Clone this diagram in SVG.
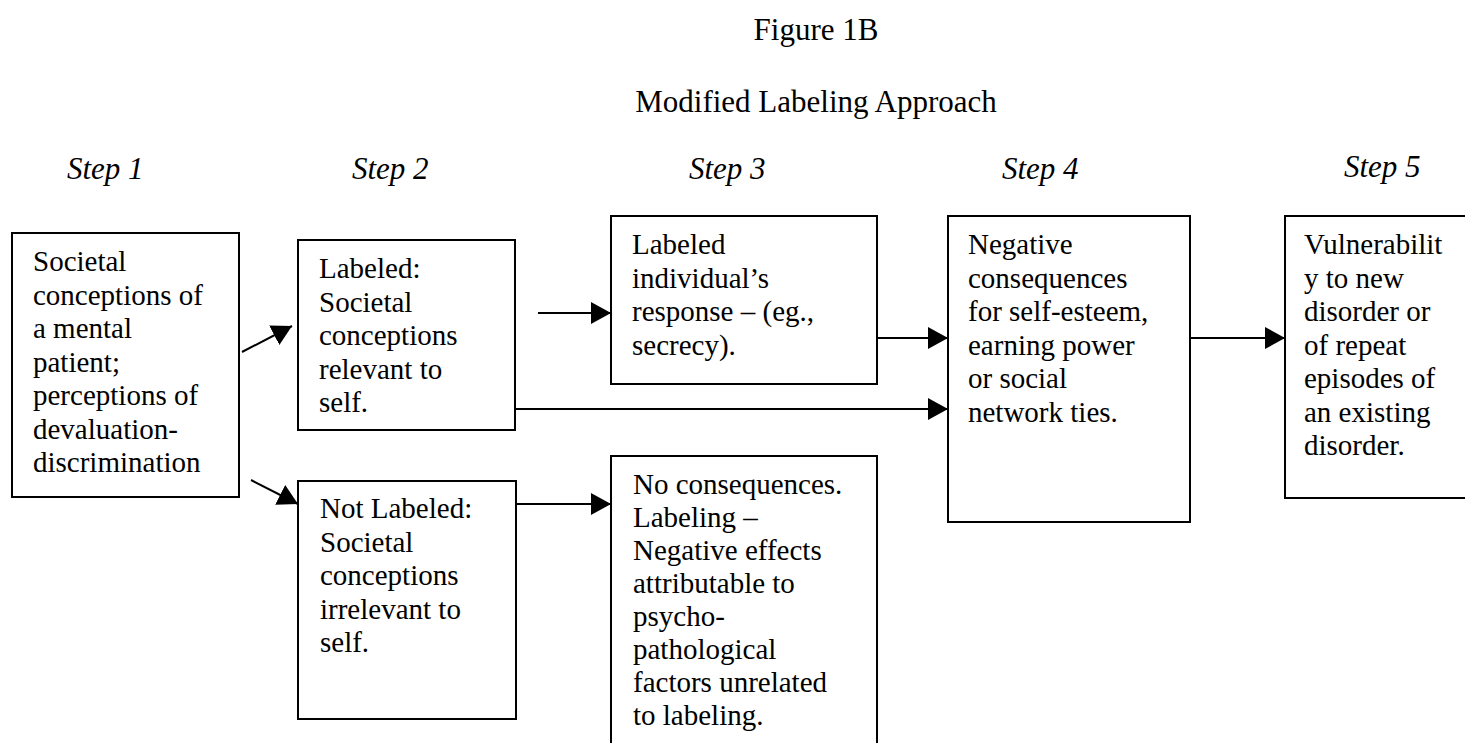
<svg xmlns="http://www.w3.org/2000/svg" width="1465" height="743" viewBox="0 0 1465 743">
<style>
text{font-family:"Liberation Serif","Times New Roman",serif;fill:#000}
.t{font-size:29px}
.title{font-size:31px;text-anchor:middle}
.step{font-size:31px;font-style:italic}
.box{fill:#fff;stroke:#000;stroke-width:2}
.c{stroke:#000;stroke-width:2;fill:none;marker-end:url(#ah)}
</style>
<defs>
<marker id="ah" markerUnits="userSpaceOnUse" markerWidth="20" markerHeight="22" refX="20" refY="11" orient="auto">
<path d="M0,0 L20,11 L0,22 z" fill="#000"/>
</marker>
</defs>
<rect width="1465" height="743" fill="#fff"/>
<g id="titles">
<text class="title" x="816" y="40">Figure 1B</text>
<text class="title" x="816" y="112">Modified Labeling Approach</text>
<text class="step" x="67" y="179">Step 1</text>
<text class="step" x="352" y="179">Step 2</text>
<text class="step" x="689" y="179">Step 3</text>
<text class="step" x="1002" y="179">Step 4</text>
<text class="step" x="1344" y="177">Step 5</text>
</g>
<g id="connectors">
<line class="c" x1="242" y1="352" x2="292" y2="326"/>
<line class="c" x1="251" y1="480" x2="298" y2="504"/>
<line class="c" x1="538" y1="313" x2="611" y2="313"/>
<line class="c" x1="515" y1="409" x2="948" y2="409"/>
<line class="c" x1="877" y1="338" x2="948" y2="338"/>
<line class="c" x1="516" y1="504" x2="611" y2="504"/>
<line class="c" x1="1190" y1="338" x2="1285" y2="338"/>
</g>
<g id="n1">
<rect class="box" x="12" y="233" width="227" height="264"/>
<text class="t"><tspan x="33" y="271">Societal</tspan><tspan x="33" y="304.5">conceptions of</tspan><tspan x="33" y="338">a mental</tspan><tspan x="33" y="371.5">patient;</tspan><tspan x="33" y="405">perceptions of</tspan><tspan x="33" y="438.5">devaluation-</tspan><tspan x="33" y="472">discrimination</tspan></text>
</g>
<g id="n2">
<rect class="box" x="298" y="240" width="217" height="190"/>
<text class="t"><tspan x="319" y="278">Labeled:</tspan><tspan x="319" y="311.5">Societal</tspan><tspan x="319" y="345">conceptions</tspan><tspan x="319" y="378.5">relevant to</tspan><tspan x="319" y="412">self.</tspan></text>
</g>
<g id="n3">
<rect class="box" x="298" y="481" width="218" height="238"/>
<text class="t"><tspan x="320" y="518">Not Labeled:</tspan><tspan x="320" y="551.5">Societal</tspan><tspan x="320" y="585">conceptions</tspan><tspan x="320" y="618.5">irrelevant to</tspan><tspan x="320" y="652">self.</tspan></text>
</g>
<g id="n4">
<rect class="box" x="611" y="216" width="266" height="168"/>
<text class="t"><tspan x="632" y="254">Labeled</tspan><tspan x="632" y="287.5">individual’s</tspan><tspan x="632" y="321">response – (eg.,</tspan><tspan x="632" y="354.5">secrecy).</tspan></text>
</g>
<g id="n5">
<rect class="box" x="611" y="456" width="266" height="300"/>
<text class="t"><tspan x="633" y="494">No consequences.</tspan><tspan x="633" y="527">Labeling –</tspan><tspan x="633" y="560">Negative effects</tspan><tspan x="633" y="593">attributable to</tspan><tspan x="633" y="626">psycho-</tspan><tspan x="633" y="659">pathological</tspan><tspan x="633" y="692">factors unrelated</tspan><tspan x="633" y="725">to labeling.</tspan></text>
</g>
<g id="n6">
<rect class="box" x="948" y="216" width="242" height="306"/>
<text class="t"><tspan x="968" y="254">Negative</tspan><tspan x="968" y="287.5">consequences</tspan><tspan x="968" y="321">for self-esteem,</tspan><tspan x="968" y="354.5">earning power</tspan><tspan x="968" y="388">or social</tspan><tspan x="968" y="421.5">network ties.</tspan></text>
</g>
<g id="n7">
<rect class="box" x="1285" y="216" width="200" height="282"/>
<text class="t"><tspan x="1304" y="254">Vulnerabilit</tspan><tspan x="1304" y="287.5">y to new</tspan><tspan x="1304" y="321">disorder or</tspan><tspan x="1304" y="354.5">of repeat</tspan><tspan x="1304" y="388">episodes of</tspan><tspan x="1304" y="421.5">an existing</tspan><tspan x="1304" y="455">disorder.</tspan></text>
</g>
</svg>
